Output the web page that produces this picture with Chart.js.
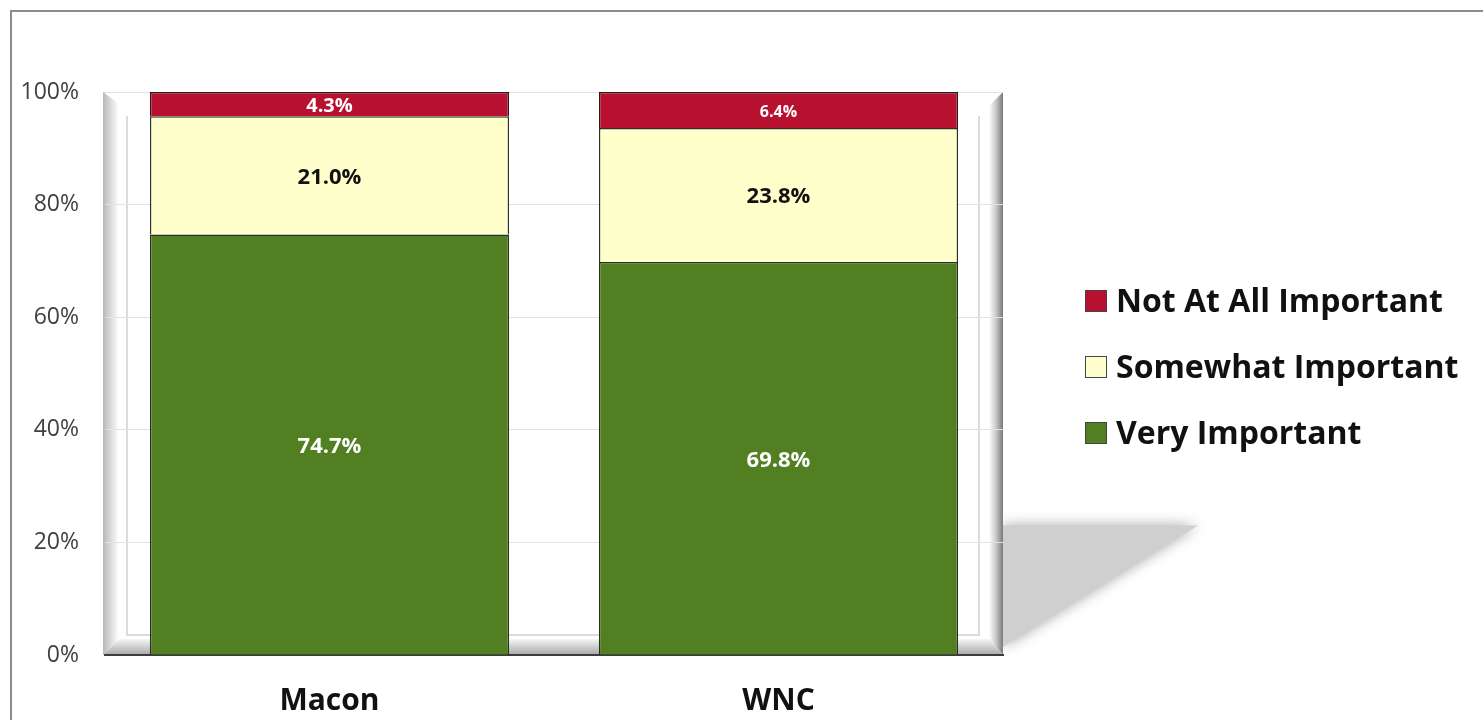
<!DOCTYPE html>
<html>
<head>
<meta charset="utf-8">
<script src="https://cdn.jsdelivr.net/npm/chart.js@4.4.1/dist/chart.umd.min.js"></script>
<style>
  html, body { margin: 0; padding: 0; background: #fff; overflow: hidden; }
  #frame { position: absolute; left: 10px; top: 10px; width: 1500px; height: 800px;
           border: 2px solid #8c8c8c; box-sizing: border-box; }
  #wrap { position: absolute; left: 0; top: 0; width: 1483px; height: 720px; }
  #legend { position: absolute; left: 1085px; top: 278px; font-family: 'Open Sans', 'DejaVu Sans', sans-serif;
            font-weight: bold; font-size: 32px; color: #111; }
  #legend .item { height: 66px; display: flex; align-items: flex-start; white-space: nowrap; }
  #legend .box { width: 20px; height: 20px; border: 1px solid #444; margin: 12px 9px 0 0; flex: none; }
</style>
</head>
<body>
<div id="frame"></div>
<div id="wrap"><canvas id="chart"></canvas></div>
<div id="legend"></div>
<script>
(function() {
  'use strict';

  var categories   = ['Macon', 'WNC'];
  var veryImp      = [74.7, 69.8];
  var somewhatImp  = [21.0, 23.8];
  var notAtAllImp  = [4.3, 6.4];
  var yTicks       = [0, 20, 40, 60, 80, 100];

  var RED    = '#b8102f';
  var CREAM  = '#ffffcc';
  var GREEN  = '#527f22';
  var FONT   = "'Open Sans', 'DejaVu Sans', sans-serif";

  // beveled 3D wall behind the bars, plus its floor shadow
  var wallPlugin = {
    id: 'wall',
    beforeDraw: function(chart) {
      var c = chart.ctx, a = chart.chartArea;
      var y = chart.scales.y;
      var L = a.left - 2, R = a.right, T = a.top, B = a.bottom;
      c.save();

      // shadow
      var sy = y.getPixelForValue(23);
      c.save();
      c.shadowColor = 'rgba(0,0,0,0.35)';
      c.shadowBlur = 14;
      c.fillStyle = '#cfcfcf';
      c.beginPath();
      c.moveTo(R, sy);
      c.lineTo(R + 195, sy);
      c.lineTo(R, B - 8);
      c.closePath();
      c.fill();
      c.restore();

      c.fillStyle = '#ffffff';
      c.fillRect(L, T, R - L, B - T);

      // left bevel
      var g = c.createLinearGradient(L, 0, L + 16, 0);
      g.addColorStop(0, '#b8b8b8');
      g.addColorStop(1, '#ffffff');
      c.fillStyle = g;
      c.beginPath();
      c.moveTo(L, T); c.lineTo(L + 16, T + 12); c.lineTo(L + 16, B - 16); c.lineTo(L, B);
      c.closePath(); c.fill();

      // right bevel
      g = c.createLinearGradient(R - 14, 0, R, 0);
      g.addColorStop(0, '#ffffff');
      g.addColorStop(0.5, '#c8c8c8');
      g.addColorStop(1, '#7a7a7a');
      c.fillStyle = g;
      c.beginPath();
      c.moveTo(R, T); c.lineTo(R - 14, T + 14); c.lineTo(R - 14, B - 16); c.lineTo(R, B);
      c.closePath(); c.fill();

      // bottom bevel
      g = c.createLinearGradient(0, B - 18, 0, B);
      g.addColorStop(0, '#ffffff');
      g.addColorStop(1, '#a8a8a8');
      c.fillStyle = g;
      c.beginPath();
      c.moveTo(L + 16, B - 16); c.lineTo(R - 14, B - 16); c.lineTo(R, B); c.lineTo(L, B);
      c.closePath(); c.fill();

      // top edge
      c.strokeStyle = '#d8d8d8';
      c.lineWidth = 1;
      c.beginPath();
      c.moveTo(L, T + 0.5); c.lineTo(R, T + 0.5);
      c.stroke();

      // inner wall lines
      c.strokeStyle = '#cfcfcf';
      c.lineWidth = 1.5;
      c.beginPath();
      c.moveTo(L + 24, T + 24); c.lineTo(L + 24, B - 20);
      c.lineTo(R - 24, B - 20); c.lineTo(R - 24, T + 24);
      c.stroke();
      c.restore();
    }
  };

  // value labels centred in each segment
  var labelPlugin = {
    id: 'segLabels',
    afterDatasetsDraw: function(chart) {
      var c = chart.ctx;
      chart.data.datasets.forEach(function(ds, i) {
        var meta = chart.getDatasetMeta(i);
        meta.data.forEach(function(bar, j) {
          var p = bar.getCenterPoint();
          var size = ds.labelSizes[j];
          c.save();
          c.font = 'bold ' + size + 'px ' + FONT;
          c.fillStyle = ds.labelColor;
          c.textAlign = 'center';
          c.textBaseline = 'middle';
          c.fillText(ds.data[j].toFixed(1) + '%', p.x, p.y + 2);
          c.restore();
        });
      });
    }
  };

  var chart = new Chart(document.getElementById('chart'), {
    type: 'bar',
    data: {
      labels: categories,
      datasets: [
        {
          label: 'Very Important',
          data: veryImp,
          backgroundColor: GREEN,
          borderColor: '#26301a',
          borderWidth: 1.5,
          labelColor: '#ffffff',
          labelSizes: [22, 22]
        },
        {
          label: 'Somewhat Important',
          data: somewhatImp,
          backgroundColor: CREAM,
          borderColor: '#303024',
          borderWidth: 1.5,
          labelColor: '#111111',
          labelSizes: [22, 22]
        },
        {
          label: 'Not At All Important',
          data: notAtAllImp,
          backgroundColor: RED,
          borderColor: '#33161c',
          borderWidth: 1.5,
          labelColor: '#ffffff',
          labelSizes: [20, 16]
        }
      ]
    },
    options: {
      responsive: true,
      maintainAspectRatio: false,
      animation: false,
      barPercentage: 0.8,
      categoryPercentage: 1.0,
      layout: { padding: { left: 0, top: 92, right: 480, bottom: 0 } },
      plugins: {
        legend: { display: false },
        tooltip: { enabled: false }
      },
      scales: {
        x: {
          stacked: true,
          grid: { display: false },
          border: { color: '#3c3c3c', width: 2 },
          ticks: { color: '#111', padding: 20, font: { family: FONT, size: 30, weight: 'bold' } },
          afterFit: function(s) { s.height = 65; }
        },
        y: {
          stacked: true,
          min: 0,
          max: 100,
          afterBuildTicks: function(s) { s.ticks = yTicks.map(function(v) { return { value: v }; }); },
          grid: { color: '#e2e2e2', drawTicks: false },
          border: { display: false },
          ticks: {
            color: '#404040',
            padding: 26,
            font: { family: FONT, size: 23 },
            callback: function(v) { return v + '%'; }
          },
          afterFit: function(s) { s.width = 105; }
        }
      }
    },
    plugins: [wallPlugin, labelPlugin]
  });

  // legend, top to bottom in reverse stacking order
  var legend = document.getElementById('legend');
  chart.data.datasets.slice().reverse().forEach(function(ds) {
    var item = document.createElement('div');
    item.className = 'item';
    var box = document.createElement('span');
    box.className = 'box';
    box.style.background = ds.backgroundColor;
    item.appendChild(box);
    item.appendChild(document.createTextNode(ds.label));
    legend.appendChild(item);
  });
})();
</script>
</body>
</html>
